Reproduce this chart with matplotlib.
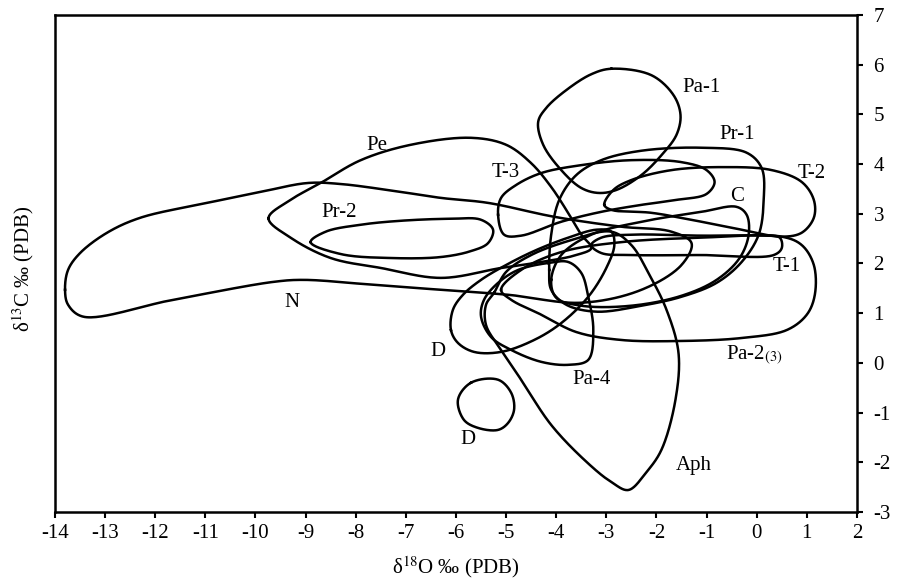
import numpy as np
import matplotlib
matplotlib.use("Agg")
import matplotlib.pyplot as plt

plt.rcParams["font.family"] = ["Liberation Serif", "DejaVu Serif"]
plt.rcParams["mathtext.fontset"] = "stix"
plt.rcParams["axes.unicode_minus"] = False

# Field outlines in the d18O–d13C plane (per mil, PDB); each list closes on itself
pa1_x = [-2.90, -2.10, -1.66, -1.52, -1.60, -1.90, -2.30, -2.80, -3.16, -3.50, -3.90, -4.26, -4.36, -4.20, -3.80, -3.30]
pa1_y = [5.92, 5.79, 5.39, 4.99, 4.59, 4.18, 3.78, 3.48, 3.42, 3.52, 3.88, 4.39, 4.85, 5.13, 5.49, 5.81]

pe_x = [-9.74, -9.30, -8.70, -7.90, -6.90, -5.70, -5.00, -4.50, -4.10, -3.80, -3.50, -3.30, -3.60, -4.30, -5.10, -6.30, -7.50, -8.50, -9.30]
pe_y = [2.91, 3.28, 3.62, 4.08, 4.39, 4.53, 4.39, 4.02, 3.54, 3.08, 2.58, 2.31, 2.17, 2.03, 1.91, 1.71, 1.91, 2.11, 2.52]

pr2_x = [-8.90, -8.60, -7.90, -7.10, -6.10, -5.50, -5.26, -5.36, -5.70, -6.30, -7.30, -8.30]
pr2_y = [2.43, 2.64, 2.78, 2.86, 2.90, 2.88, 2.68, 2.41, 2.25, 2.13, 2.11, 2.19]

t3_x = [-5.16, -5.10, -4.80, -4.30, -3.50, -2.50, -1.50, -1.00, -0.84, -1.00, -1.60, -2.30, -3.10, -3.90, -4.70, -5.04]
t3_y = [2.98, 3.32, 3.58, 3.82, 3.98, 4.08, 4.04, 3.88, 3.64, 3.40, 3.28, 3.18, 3.04, 2.84, 2.56, 2.58]

pr1_x = [-4.14, -4.10, -3.94, -3.60, -3.10, -2.30, -1.10, -0.20, 0.10, 0.14, 0.04, -0.30, -0.80, -1.50, -2.30, -3.20, -3.80, -4.10]
pr1_y = [1.87, 2.58, 3.28, 3.78, 4.08, 4.27, 4.33, 4.23, 3.92, 3.28, 2.58, 2.03, 1.61, 1.33, 1.15, 1.03, 1.17, 1.47]

t2_x = [-3.04, -2.86, -2.50, -1.70, -0.70, 0.30, 0.90, 1.14, 1.14, 0.90, 0.50, -0.30, -1.10, -2.10, -2.90]
t2_y = [3.18, 3.48, 3.68, 3.88, 3.94, 3.88, 3.64, 3.28, 2.92, 2.62, 2.54, 2.68, 2.84, 3.02, 3.08]

c_x = [-4.10, -3.90, -3.30, -2.30, -1.10, -0.40, -0.20, -0.16, -0.34, -0.80, -1.50, -2.50, -3.50, -4.00]
c_y = [1.67, 2.17, 2.58, 2.84, 3.04, 3.14, 2.98, 2.58, 2.11, 1.67, 1.35, 1.15, 1.15, 1.31]

t1_x = [-3.30, -3.10, -2.50, -1.10, 0.10, 0.46, 0.50, 0.34, -1.10, -2.50, -3.10]
t1_y = [2.37, 2.52, 2.58, 2.56, 2.56, 2.52, 2.31, 2.17, 2.17, 2.17, 2.21]

n_x = [-13.80, -13.74, -13.50, -12.96, -12.30, -10.96, -9.90, -8.96, -8.30, -7.10, -6.30, -5.36, -4.04, -2.70, -1.70,
       -1.30, -1.50, -2.30, -3.50, -4.96, -6.30, -7.64, -9.04, -9.64, -11.64, -13.44, -13.74]
n_y = [1.47, 1.87, 2.21, 2.62, 2.92, 3.22, 3.44, 3.62, 3.60, 3.44, 3.32, 3.22, 2.94, 2.74, 2.64,
       2.41, 1.97, 1.47, 1.21, 1.37, 1.47, 1.57, 1.67, 1.63, 1.27, 0.93, 1.17]

pa2_x = [-5.10, -4.70, -3.90, -2.70, -1.10, 0.50, 0.90, 1.14, 1.16, 1.00, 0.60, -0.30, -1.50, -2.70, -3.60, -4.30, -4.90]
pa2_y = [1.47, 1.87, 2.23, 2.43, 2.52, 2.54, 2.37, 1.97, 1.37, 0.97, 0.66, 0.50, 0.44, 0.46, 0.62, 0.97, 1.27]

aph_x = [-5.24, -5.00, -4.50, -3.70, -2.90, -2.50, -2.14, -1.80, -1.56, -1.62, -1.90, -2.20, -2.56, -2.90, -3.40,
         -4.10, -4.70, -5.10, -5.40, -5.40]
aph_y = [1.41, 1.83, 2.17, 2.47, 2.64, 2.37, 1.77, 1.07, 0.20, -0.74, -1.75, -2.20, -2.56, -2.40, -1.99,
         -1.25, -0.34, 0.26, 0.76, 1.17]

d1_x = [-6.10, -6.06, -5.86, -5.50, -5.00, -4.40, -3.76, -3.20, -2.90, -2.84, -3.00, -3.36, -3.90, -4.44, -5.10, -5.64, -5.96]
d1_y = [0.66, 1.07, 1.37, 1.67, 1.97, 2.27, 2.52, 2.68, 2.64, 2.37, 1.91, 1.33, 0.80, 0.46, 0.22, 0.22, 0.40]

pa4_x = [-4.16, -3.76, -3.50, -3.36, -3.26, -3.36, -3.76, -4.30, -4.90, -5.30, -5.50, -5.44, -5.16, -4.76]
pa4_y = [2.01, 2.03, 1.81, 1.33, 0.66, 0.06, -0.04, 0.02, 0.26, 0.52, 0.93, 1.27, 1.61, 1.87]

d2_x = [-5.70, -5.16, -4.90, -4.84, -4.96, -5.16, -5.56, -5.84, -5.96]
d2_y = [-0.40, -0.34, -0.60, -0.94, -1.21, -1.35, -1.31, -1.15, -0.74]

outlines = [(pa1_x, pa1_y), (pe_x, pe_y), (pr2_x, pr2_y), (t3_x, t3_y), (pr1_x, pr1_y),
            (t2_x, t2_y), (c_x, c_y), (t1_x, t1_y), (n_x, n_y), (pa2_x, pa2_y),
            (aph_x, aph_y), (d1_x, d1_y), (pa4_x, pa4_y), (d2_x, d2_y)]

# Field names and where they are written
label_text = ["Pa-1", "Pr-1", "Pe", "T-3", "T-2", "C", "Pr-2", "T-1", "N", "D",
              r"Pa-2$_{(3)}$", "Pa-4", "D", "Aph"]
label_x = [-1.10, -0.40, -7.58, -5.00, 1.10, -0.40, -8.34, 0.60, -9.28, -6.36, -0.62, -3.30, -5.76, -1.26]
label_y = [5.55, 4.59, 4.37, 3.84, 3.82, 3.34, 3.03, 1.93, 1.21, 0.22, 0.16, -0.34, -1.55, -2.06]
label_ha = ["center", "center", "center", "center", "center", "center", "center", "center",
            "center", "center", "left", "center", "center", "center"]

x_ticks = list(range(-14, 3))
y_ticks = list(range(-3, 8))


def closed_spline(xs, ys, n=30, alpha=0.5):
    """Centripetal Catmull-Rom curve through a closed ring of points."""
    P = np.column_stack([xs, ys]).astype(float)
    m = len(P)
    pts = []
    for i in range(m):
        p0, p1, p2, p3 = P[(i - 1) % m], P[i], P[(i + 1) % m], P[(i + 2) % m]
        t0 = 0.0
        t1 = t0 + np.linalg.norm(p1 - p0) ** alpha
        t2 = t1 + np.linalg.norm(p2 - p1) ** alpha
        t3 = t2 + np.linalg.norm(p3 - p2) ** alpha
        t = np.linspace(t1, t2, n, endpoint=False)[:, None]
        a1 = (t1 - t) / (t1 - t0) * p0 + (t - t0) / (t1 - t0) * p1
        a2 = (t2 - t) / (t2 - t1) * p1 + (t - t1) / (t2 - t1) * p2
        a3 = (t3 - t) / (t3 - t2) * p2 + (t - t2) / (t3 - t2) * p3
        b1 = (t2 - t) / (t2 - t0) * a1 + (t - t0) / (t2 - t0) * a2
        b2 = (t3 - t) / (t3 - t1) * a2 + (t - t1) / (t3 - t1) * a3
        c = (t2 - t) / (t2 - t1) * b1 + (t - t1) / (t2 - t1) * b2
        pts.append(c)
    pts = np.vstack(pts)
    pts = np.vstack([pts, pts[:1]])
    return pts[:, 0], pts[:, 1]


fig = plt.figure(figsize=(8.99, 5.81), dpi=100)
ax = fig.add_axes([0.0612, 0.119, 0.892, 0.855])

for xs, ys in outlines:
    sx, sy = closed_spline(xs, ys)
    ax.plot(sx, sy, color="black", lw=1.8, solid_joinstyle="round")

for txt, lx, ly, ha in zip(label_text, label_x, label_y, label_ha):
    ax.text(lx, ly, txt, fontsize=15, ha=ha, va="center", color="black")

ax.set_xlim(-14, 2)
ax.set_ylim(-3, 7)
ax.set_xticks(x_ticks)
ax.set_xticklabels([str(v) for v in x_ticks])
ax.set_yticks(y_ticks)
ax.set_yticklabels([str(v) for v in y_ticks])

ax.yaxis.tick_right()
ax.tick_params(axis="both", direction="out", length=4, width=1.5, labelsize=15, colors="black")
ax.tick_params(axis="y", pad=8)
ax.tick_params(axis="x", pad=5)
for s in ax.spines.values():
    s.set_linewidth(1.8)

ax.set_xlabel(r"δ$^{18}$O ‰ (PDB)", fontsize=15, labelpad=8)
fig.text(0.026, 0.538, r"δ$^{13}$C ‰ (PDB)", fontsize=15, rotation=90, ha="center", va="center")

fig.savefig("out.png", dpi=100)
